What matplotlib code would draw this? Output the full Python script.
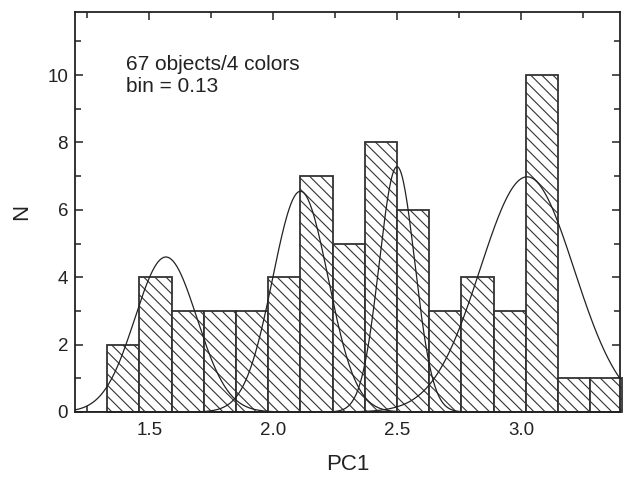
import numpy as np
import matplotlib
matplotlib.use("Agg")
import matplotlib.pyplot as plt
from matplotlib.ticker import MultipleLocator

plt.rcParams['font.family'] = ['Liberation Sans', 'DejaVu Sans']
plt.rcParams['hatch.linewidth'] = 0.8

# histogram: bin width 0.13, left edges start at 1.33
bin_width = 0.13
bin_start = 1.33
counts = [2, 4, 3, 3, 3, 4, 7, 5, 8, 6, 3, 4, 3, 10, 1, 1]

# gaussian components (center, amplitude, sigma)
g_centers = [1.567, 2.11, 2.50, 3.025]
g_amps = [4.6, 6.55, 7.28, 6.98]
g_sigmas = [0.125, 0.112, 0.072, 0.19]

fig = plt.figure(figsize=(6.25, 4.79), dpi=100)
ax = fig.add_axes([75 / 625, 1 - 412 / 479, 545 / 625, 400 / 479])

edges = bin_start + bin_width * np.arange(len(counts))
ax.bar(edges, counts, width=bin_width, align='edge', color='white',
       edgecolor='#333333', linewidth=1.3, hatch='\\\\\\', clip_on=False, zorder=2)

xs = np.linspace(1.2, 3.4, 600)
for c, a, s in zip(g_centers, g_amps, g_sigmas):
    ax.plot(xs, a * np.exp(-(xs - c) ** 2 / (2 * s ** 2)), color='#222222', lw=0.9, zorder=3)

ax.set_xlim(1.2, 3.4)
ax.set_ylim(0, 11.87)
ax.xaxis.set_major_locator(MultipleLocator(0.5))
ax.xaxis.set_minor_locator(MultipleLocator(0.25))
ax.yaxis.set_major_locator(MultipleLocator(2))
ax.yaxis.set_minor_locator(MultipleLocator(1))
ax.tick_params(which='both', direction='in', top=True, right=True, labelsize=13.5, colors='#222222')
ax.tick_params(which='major', length=6, width=1.1)
ax.tick_params(which='minor', length=4, width=1.1)
ax.tick_params(axis='x', pad=7)
ax.tick_params(axis='y', pad=5)
ax.set_xticks([1.5, 2.0, 2.5, 3.0])
ax.set_xticklabels(['1.5', '2.0', '2.5', '3.0'])
for sp in ax.spines.values():
    sp.set_linewidth(1.3)
    sp.set_color('#222222')
    sp.set_zorder(4)

ax.set_xlabel('PC1', fontsize=16, color='#222222', labelpad=11)
ax.set_ylabel('N', fontsize=16, color='#222222', labelpad=11)

ax.text(1.405, 10.0, '67 objects/4 colors\nbin = 0.13', fontsize=15, color='#222222',
        va='center', linespacing=1.2)

fig.savefig('out.png', dpi=100)
